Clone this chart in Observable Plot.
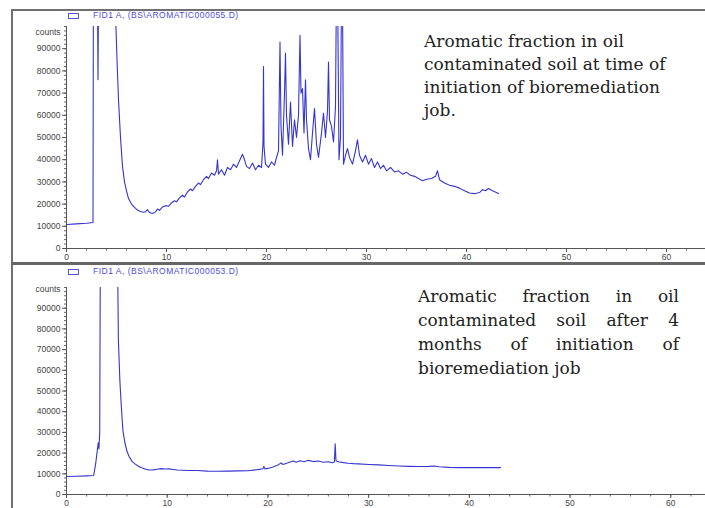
<!DOCTYPE html>
<html><head><meta charset="utf-8">
<script src="https://cdn.jsdelivr.net/npm/d3@7"></script>
<script src="https://cdn.jsdelivr.net/npm/@observablehq/plot@0.6"></script>
<style>
html,body{margin:0;padding:0;background:#fff;overflow:hidden;}
#wrap{position:relative;width:705px;height:508px;overflow:hidden;background:#fff;}
.chart{position:absolute;left:0;}
.border{position:absolute;background:#707070;}
.legend{position:absolute;left:68px;font:8.5px "Liberation Sans",Arial,sans-serif;color:#4a4ae0;white-space:nowrap;line-height:10px;letter-spacing:0.5px;}
.legend .box{display:inline-block;width:9px;height:4px;border:1px solid #5555e0;margin-right:14px;vertical-align:middle;}
.note{position:absolute;font-family:"DejaVu Serif",serif;color:#222;font-size:17px;line-height:23px;}
.just{text-align:justify;text-align-last:justify;}
</style></head><body><div id="wrap"></div>
<script>
// ---- data ----
const topTime = [0,1,2,2.65,2.7,3.05,3.15,3.25,4.85,4.95,5.05,5.2,5.4,5.6,5.8,6.0,6.2,6.5,6.8,7.1,7.4,7.7,7.9,8.1,8.3,8.6,8.9,9.1,9.3,9.6,9.9,10.2,10.5,10.8,11.0,11.3,11.6,11.8,12.1,12.4,12.6,12.9,13.2,13.4,13.7,14.0,14.2,14.5,14.8,15.0,15.1,15.2,15.5,15.8,16.1,16.4,16.7,17.0,17.3,17.6,17.8,18.0,18.3,18.6,18.9,19.2,19.5,19.65,19.7,19.75,19.9,20.2,20.5,20.8,21.0,21.2,21.35,21.45,21.6,21.8,21.9,22.0,22.2,22.4,22.6,22.8,23.0,23.2,23.35,23.45,23.6,23.75,23.9,24.0,24.2,24.4,24.6,24.8,25.0,25.2,25.5,25.7,25.9,26.1,26.2,26.3,26.5,26.7,26.9,27.05,27.25,27.4,27.55,27.7,27.9,28.1,28.3,28.6,28.9,29.1,29.3,29.6,29.9,30.2,30.5,30.8,31.1,31.4,31.7,32.0,32.4,32.8,33.2,33.6,34.0,34.4,34.8,35.2,35.6,36.0,36.5,36.9,37.1,37.3,37.8,38.3,38.8,39.3,39.8,40.3,40.8,41.3,41.6,41.9,42.2,42.6,43.2];
const topCounts = [10800,11100,11400,11700,150000,150000,76000,150000,150000,99000,85000,67000,50000,37000,30000,26000,22500,20000,18500,17300,16700,16300,16600,17500,16200,15800,16500,17800,17200,18700,19300,19000,20500,21500,21000,22800,24000,23200,25500,26800,26000,28000,29500,28800,31000,32500,31500,34000,33000,35000,40000,33500,35500,33000,36500,35500,38000,36500,39500,42500,40000,37000,36000,38500,35500,37500,36500,48000,82000,46000,38000,36500,39000,37500,41000,44000,93000,55000,42000,70000,88000,60000,47000,66000,46000,58000,50000,60000,96000,70000,72000,52000,76000,58000,45000,40000,52000,63000,47000,41000,52000,61000,50000,62000,84000,58000,55000,48000,64000,150000,40000,50000,150000,38000,42000,45000,41000,38000,44000,49000,42000,39000,42000,38000,40500,36500,39000,36000,37500,35000,36500,34500,35000,33500,34300,33000,32500,31500,30500,31200,31500,32500,35000,31000,29500,28500,28000,27200,26000,25000,24700,25200,26500,26000,27000,26000,24800];

const bottomTime = [0,1,2,2.7,2.9,3.05,3.15,3.22,3.3,3.38,5.0,5.15,5.3,5.45,5.6,5.8,6.0,6.2,6.5,6.8,7.1,7.4,7.8,8.2,8.6,9.0,9.4,9.8,10.2,10.6,11.0,12.0,13.0,14.0,15.0,16.0,17.0,18.0,19.0,19.5,19.6,19.7,20.0,20.5,21.0,21.3,21.5,22.0,22.5,22.8,23.2,23.6,24.0,24.5,25.0,25.5,26.0,26.4,26.6,26.68,26.76,27.0,27.5,28.0,28.5,29.0,30.0,31.0,32.0,33.0,34.0,35.0,36.0,36.5,37.0,38.0,39.0,40.0,41.0,42.0,43.1];
const bottomCounts = [8700,8800,9000,9200,15000,21000,25000,22000,30000,150000,150000,75000,55000,42000,31000,25000,21000,18500,16000,14800,13800,13000,12300,11800,11900,12200,12500,12300,12400,12100,11800,11600,11600,11300,11200,11300,11400,11500,12000,12400,13600,12400,12600,13300,14200,15300,14500,15300,16200,15600,16300,15800,16500,15900,16200,15600,15800,15300,15700,24500,16300,15800,15400,15100,14900,14800,14500,14300,14000,13800,13600,13500,13600,13800,13400,13100,13000,13000,13000,13000,13000];

const xTicks = [0,10,20,30,40,50,60];
const xMinorTicks = d3.range(0, 64, 2);
const yTicks = [0,10000,20000,30000,40000,50000,60000,70000,80000,90000];
const yMinorTicks = d3.range(0, 100001, 2000);
const yUnit = "counts";
const legendTop = "FID1 A, (BS\\AROMATIC000055.D)";
const legendBottom = "FID1 A, (BS\\AROMATIC000053.D)";
const noteTop = ["Aromatic fraction in oil", "contaminated soil at time of", "initiation of bioremediation", "job."];
const noteBottom = ["Aromatic fraction in oil", "contaminated soil after 4", "months of initiation of", "bioremediation job"];

function chromatogram(times, counts, o) {
  const data = times.map((t, i) => ({t, c: counts[i]}));
  const fmt = d3.format("d");
  return Plot.plot({
    width: 705, height: o.height,
    marginLeft: 66, marginRight: 0, marginTop: o.marginTop, marginBottom: o.marginBottom,
    style: {background: "transparent", fontFamily: "'Liberation Sans', Arial, sans-serif", fontSize: "8.5px", color: "#444", overflow: "visible"},
    x: {domain: [0, o.xMax], label: null},
    y: {domain: [0, 100000], label: null},
    marks: [
      Plot.axisX(xMinorTicks, {tickSize: 2.5, tickFormat: () => "", stroke: "#666"}),
      Plot.axisX(xTicks, {tickSize: 4, tickPadding: 1, tickFormat: fmt, stroke: "#555", fill: "#444"}),
      Plot.axisY(yMinorTicks, {tickSize: 2, tickFormat: () => "", stroke: "#666"}),
      Plot.axisY(yTicks, {tickSize: 4, tickPadding: 2, tickFormat: fmt, stroke: "#555", fill: "#444"}),
      Plot.ruleY([0], {stroke: "#555"}),
      Plot.ruleX([0], {stroke: "#555"}),
      Plot.text([yUnit], {frameAnchor: "top-left", dx: -6, dy: o.unitDy, textAnchor: "end", lineAnchor: "middle", fill: "#444"}),
      Plot.line(data, {x: "t", y: "c", stroke: "#3535d0", strokeWidth: 1.1, clip: true})
    ]
  });
}

const wrap = document.getElementById("wrap");

const topChart = chromatogram(topTime, topCounts, {height: 262, marginTop: 26, marginBottom: 14, xMax: 63.9, unitDy: 6});
topChart.classList.add("chart"); topChart.style.top = "0px";
wrap.appendChild(topChart);

const botChart = chromatogram(bottomTime, bottomCounts, {height: 244, marginTop: 23, marginBottom: 14, xMax: 63.45, unitDy: 2});
botChart.classList.add("chart"); botChart.style.top = "264px";
wrap.appendChild(botChart);

function addDiv(cls, css, html) {
  const d = document.createElement("div");
  d.className = cls;
  Object.assign(d.style, css);
  if (html != null) d.innerHTML = html;
  wrap.appendChild(d);
  return d;
}
// panel frames
addDiv("border", {left: "11px", top: "9px", width: "700px", height: "1.5px"});
addDiv("border", {left: "11px", top: "9px", width: "1.5px", height: "505px"});
addDiv("border", {left: "11px", top: "262px", width: "700px", height: "2.5px", background: "#666"});

// legends
const lt = addDiv("legend", {top: "10px"});
lt.innerHTML = '<span class="box"></span>';
lt.appendChild(document.createTextNode(legendTop));
const lb = addDiv("legend", {top: "266px"});
lb.innerHTML = '<span class="box"></span>';
lb.appendChild(document.createTextNode(legendBottom));

// notes
const nt = addDiv("note", {left: "424px", top: "30px"});
noteTop.forEach(s => { const l = document.createElement("div"); l.textContent = s; nt.appendChild(l); });
const nb = addDiv("note", {left: "418px", top: "284px", width: "261px", lineHeight: "24px"});
noteBottom.forEach((s, i) => { const l = document.createElement("div"); l.textContent = s; if (i < noteBottom.length - 1) l.className = "just"; nb.appendChild(l); });
</script>
</body></html>
